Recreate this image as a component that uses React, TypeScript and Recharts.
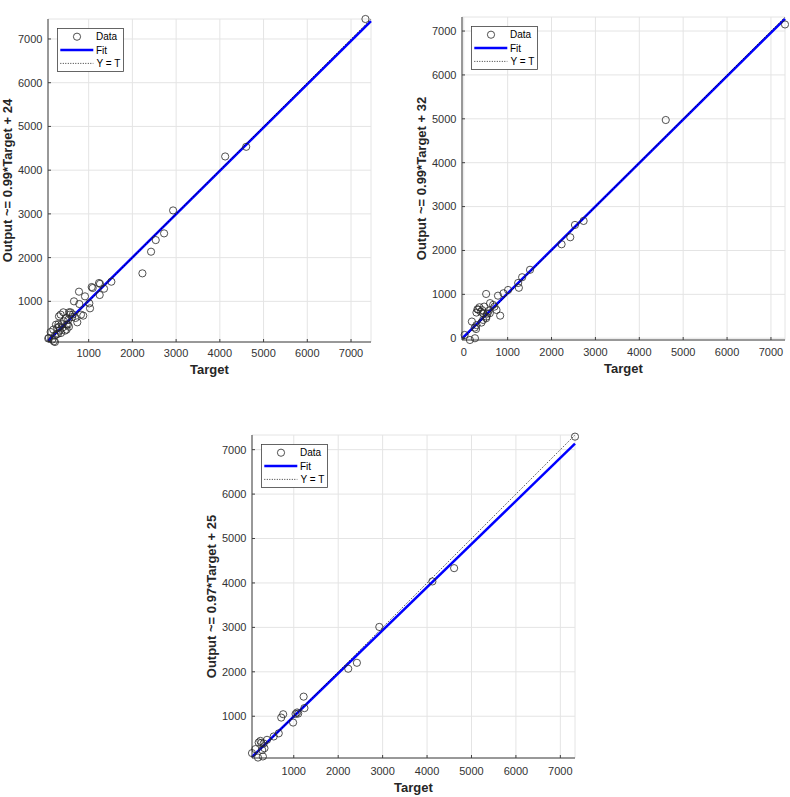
import React from 'react';
import { ScatterChart, Scatter, XAxis, YAxis, CartesianGrid, ReferenceLine, Legend } from 'recharts';

const FONT = '"Liberation Sans", Arial, Helvetica, sans-serif';

// ---------- Panel A ----------
const targetA = [75, 91, 130, 166, 205, 229, 191, 229, 252, 282, 300, 320, 335, 321, 366, 380, 420, 434, 458, 549, 496, 496, 526, 534, 573, 588, 359, 480, 620, 664, 700, 740, 786, 779, 824, 876, 916, 1015, 1031, 1069, 1092, 1237, 1260, 1252, 1351, 1519, 2229, 2427, 2534, 2725, 2931, 4122, 4603, 7330, 270, 310, 400, 550, 640];
const outputA = [150, 164, 299, 125, 86, 70, 353, 216, 467, 391, 260, 420, 330, 657, 276, 480, 749, 543, 330, 749, 353, 467, 468, 581, 695, 749, 696, 620, 640, 1000, 620, 520, 939, 1221, 695, 673, 1114, 954, 840, 1327, 1305, 1419, 1400, 1145, 1289, 1449, 1640, 2135, 2401, 2554, 3079, 4313, 4534, 7457, 250, 480, 400, 420, 700];

// ---------- Panel B ----------
const targetB = [20, 140, 255, 185, 251, 280, 290, 312, 289, 358, 388, 403, 441, 464, 510, 517, 510, 593, 600, 670, 746, 780, 830, 905, 1010, 1240, 1256, 1330, 1510, 2229, 2427, 2534, 2731, 4603, 7320, 330, 420, 450, 540, 560, 700];
const outputB = [75, -40, 0, 380, 243, 210, 300, 661, 585, 706, 607, 357, 418, 721, 456, 494, 1009, 570, 800, 760, 645, 970, 515, 1025, 1100, 1260, 1150, 1390, 1560, 2141, 2301, 2582, 2673, 4973, 7150, 650, 640, 560, 560, 620, 720];

// ---------- Panel C ----------
const targetC = [60, 136, 195, 305, 250, 270, 290, 340, 323, 398, 549, 662, 718, 762, 985, 1040, 1075, 1100, 1222, 1240, 2226, 2421, 2925, 4120, 4609, 7330, 210];
const outputC = [170, 260, 70, 95, 445, 400, 240, 280, 388, 469, 545, 615, 970, 1045, 858, 1050, 1085, 1060, 1441, 1183, 2069, 2203, 3010, 4034, 4333, 7293, 410];

// ---------- Fits, labels, ticks ----------
const panelTitles = ['A', 'B', 'C'];
const fitSlopes = [0.99, 0.99, 0.97];
const fitIntercepts = [24, 32, 25];
const yAxisLabels = ['Output ~= 0.99*Target + 24', 'Output ~= 0.99*Target + 32', 'Output ~= 0.97*Target + 25'];
const xAxisLabel = 'Target';
const ticksA = [1000, 2000, 3000, 4000, 5000, 6000, 7000];
const ticksB = [0, 1000, 2000, 3000, 4000, 5000, 6000, 7000];
const ticksC = [1000, 2000, 3000, 4000, 5000, 6000, 7000];
const legendLabels = ['Data', 'Fit', 'Y = T'];

const ML = 50, MT = 25, MR = 4, MB = 38;
const AX = '#404040';

type PanelProps = {
  idx: number;
  targets: number[];
  outputs: number[];
  ticks: number[];
  left: number;
  top: number;
  w: number;
  h: number;
  xTickGap: number;
  xLabelGap: number;
};

const LegendBox = () => (
  <svg width={67} height={44} style={{ display: 'block' }}>
    <rect x={0.5} y={0.5} width={66} height={43} fill="#fff" stroke={AX} strokeWidth={0.8} />
    <circle cx={20} cy={8.7} r={3.6} fill="none" stroke="#262626" strokeWidth={0.8} />
    <text x={39} y={12.3} fontSize={10} fontFamily={FONT} fill="#000">{legendLabels[0]}</text>
    <line x1={3.3} x2={36.3} y1={22} y2={22} stroke="#0000ff" strokeWidth={2.5} />
    <text x={39} y={25.6} fontSize={10} fontFamily={FONT} fill="#000">{legendLabels[1]}</text>
    <line x1={3.3} x2={36.3} y1={35.4} y2={35.4} stroke="#000" strokeWidth={0.8} strokeDasharray="1 1.5" />
    <text x={39.5} y={39} fontSize={10} fontFamily={FONT} fill="#000">{legendLabels[2]}</text>
  </svg>
);

function Panel(p: PanelProps) {
  const data = p.targets.map((t, i) => ({ t, o: p.outputs[i] }));
  const all = [...p.targets, ...p.outputs];
  const lo = Math.min(...all);
  const hi = Math.max(...all);
  const a = fitSlopes[p.idx];
  const b = fitIntercepts[p.idx];
  const W = ML + p.w + MR;
  const H = MT + p.h + MB;
  const tickStyle = { fontSize: 11, fill: '#333', fontFamily: FONT };

  const titleContent = () => (
    <text x={ML + p.w / 2} y={MT - 5.3} textAnchor="middle" fontFamily={FONT} fontSize={13} fontWeight="bold" fill="#000">
      {panelTitles[p.idx]}
    </text>
  );
  const xLabelContent = () => (
    <text x={ML + p.w / 2} y={MT + p.h + p.xLabelGap + 3.5} textAnchor="middle" fontFamily={FONT} fontSize={13} fontWeight="bold" fill="#262626">
      {xAxisLabel}
    </text>
  );
  const yLabelContent = () => {
    const bx = ML - 36.5;
    const cy = MT + p.h / 2;
    return (
      <text x={bx} y={cy} transform={`rotate(-90, ${bx}, ${cy})`} textAnchor="middle" fontFamily={FONT} fontSize={13} fontWeight="bold" fill="#262626">
        {yAxisLabels[p.idx]}
      </text>
    );
  };

  return (
    <div style={{ position: 'absolute', left: p.left - ML, top: p.top - MT }}>
      <ScatterChart width={W} height={H} margin={{ top: MT, right: MR, left: 0, bottom: 0 }}>
        <CartesianGrid stroke="#e4e4e4" strokeWidth={1} />
        <XAxis
          type="number"
          dataKey="t"
          domain={[lo, hi]}
          ticks={p.ticks}
          height={MB}
          orientation="bottom"
          stroke={AX}
          tickSize={-3}
          tickMargin={p.xTickGap - 0.9}
          tick={tickStyle}
          label={xLabelContent}
        />
        <XAxis
          xAxisId="top"
          type="number"
          dataKey="t"
          domain={[lo, hi]}
          ticks={p.ticks}
          height={0}
          orientation="top"
          stroke={AX}
          tickSize={-3}
          tick={false}
          label={titleContent}
        />
        <YAxis
          type="number"
          dataKey="o"
          domain={[lo, hi]}
          ticks={p.ticks}
          width={ML}
          orientation="left"
          stroke={AX}
          tickSize={-3}
          tickMargin={8.6}
          tick={tickStyle}
          label={yLabelContent}
        />
        <YAxis
          yAxisId="right"
          type="number"
          dataKey="o"
          domain={[lo, hi]}
          ticks={p.ticks}
          width={0}
          orientation="right"
          stroke={AX}
          tickSize={-3}
          tick={false}
        />
        <Scatter
          data={data}
          isAnimationActive={false}
          shape={(s: any) => <circle cx={s.cx} cy={s.cy} r={3.6} fill="none" stroke="#262626" strokeWidth={0.8} />}
        />
        <ReferenceLine
          segment={[{ x: lo, y: a * lo + b }, { x: hi, y: a * hi + b }]}
          stroke="#0000ff"
          strokeWidth={2.5}
          ifOverflow="visible"
        />
        <ReferenceLine
          segment={[{ x: lo, y: lo }, { x: hi, y: hi }]}
          stroke="#000"
          strokeWidth={0.8}
          strokeDasharray="1 1.5"
          ifOverflow="visible"
        />
        <Legend
          layout="horizontal"
          verticalAlign="middle"
          align="center"
          wrapperStyle={{ left: ML + 9, top: MT + 9, width: 67, height: 44 }}
          content={() => <LegendBox />}
        />
      </ScatterChart>
    </div>
  );
}

export default function App() {
  return (
    <div style={{ position: 'absolute', left: 0, top: 0, width: 790, height: 797, background: '#fff', overflow: 'hidden' }}>
      <Panel idx={0} targets={targetA} outputs={outputA} ticks={ticksA} left={48} top={19} w={323} h={323} xTickGap={11} xLabelGap={28.4} />
      <Panel idx={1} targets={targetB} outputs={outputB} ticks={ticksB} left={462} top={17} w={323} h={323} xTickGap={12.3} xLabelGap={29.3} />
      <Panel idx={2} targets={targetC} outputs={outputC} ticks={ticksC} left={252} top={435} w={323} h={323} xTickGap={13.3} xLabelGap={30} />
    </div>
  );
}
